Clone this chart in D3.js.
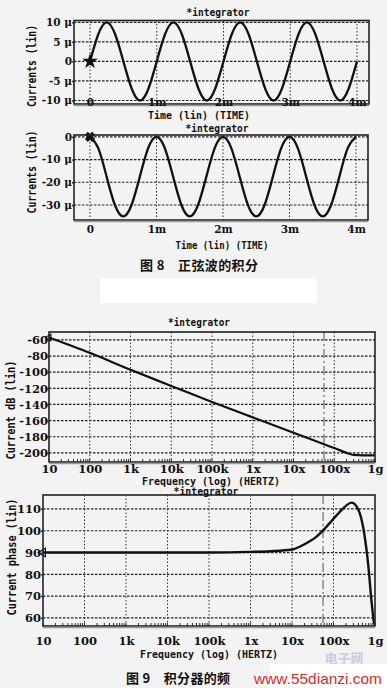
<!DOCTYPE html>
<html>
<head>
<meta charset="utf-8">
<script src="https://cdn.jsdelivr.net/npm/d3@7"></script>
<style>
  body { margin: 0; background: #f3f3f3; }
  svg { display: block; }
  .tk { font-family: "DejaVu Serif", serif; font-weight: bold; font-size: 11px; fill: #111; }
  .mono { font-family: "DejaVu Sans Mono", monospace; font-weight: bold; font-size: 10.5px; fill: #111; }
  .cap { font-family: "Noto Sans CJK SC", sans-serif; font-weight: bold; font-size: 13px; fill: #111; }
</style>
</head>
<body>
<svg id="fig" width="387" height="688"></svg>
<script>
/** Fig. 8: time axis (ms) shared by both transient plots */
var timeMs = [0, 0.125, 0.25, 0.375, 0.5, 0.625, 0.75, 0.875,
              1, 1.125, 1.25, 1.375, 1.5, 1.625, 1.75, 1.875,
              2, 2.125, 2.25, 2.375, 2.5, 2.625, 2.75, 2.875,
              3, 3.125, 3.25, 3.375, 3.5, 3.625, 3.75, 3.875, 4];

/** input sine current, uA */
var inputCurrent = [0, 7, 10, 7, 0, -7, -10, -7,
                    0, 7, 10, 7, 0, -7, -10, -7,
                    0, 7, 10, 7, 0, -7, -10, -7,
                    0, 7, 10, 7, 0, -7, -10, -7, 0];

/** integrated output current, uA */
var outputCurrent = [0, -5, -17.5, -30, -35, -30, -17.5, -5,
                     0, -5, -17.5, -30, -35, -30, -17.5, -5,
                     0, -5, -17.5, -30, -35, -30, -17.5, -5,
                     0, -5, -17.5, -30, -35, -30, -17.5, -5, 0];

/** Fig. 9: magnitude response */
var magFreq = [10, 100, 1e3, 1e4, 1e5, 1e6, 1e7, 3e7, 1e8, 2e8, 3e8, 5e8, 1e9];
var magDb   = [-57, -76, -97, -117, -137, -156, -175, -184, -194, -200, -202.5, -203, -203];

/** Fig. 9: phase response */
var phaseFreq = [10, 1e3, 1e5, 1e6, 3e6, 1e7, 1.9e7, 3.9e7, 8.2e7, 1.44e8, 2.75e8, 4e8, 5.25e8, 6.9e8, 8.3e8, 9.5e8];
var phaseDeg  = [90, 90, 90, 90.3, 90.6, 91.4, 93.6, 97.3, 103.6, 108.8, 112.9, 109.5, 101, 84, 67, 57];

/** cursor line drawn in both frequency plots */
var cursorFreq = 5.6e7;

/** tick values and labels */
var timeTicks = [0, 1, 2, 3, 4],
    timeLabels = ['0', '1m', '2m', '3m', '4m'];
var inTicks = [10, 5, 0, -5, -10],
    inLabels = ['10 \u03bc', '5 \u03bc', '0', '-5 \u03bc', '-10 \u03bc'];
var outTicks = [0, -10, -20, -30],
    outLabels = ['0', '-10 \u03bc', '-20 \u03bc', '-30 \u03bc'];
var freqTicks = [10, 100, 1e3, 1e4, 1e5, 1e6, 1e7, 1e8, 1e9],
    freqLabels = ['10', '100', '1k', '10k', '100k', '1x', '10x', '100x', '1g'];
var dbTicks = [-60, -80, -100, -120, -140, -160, -180, -200],
    dbLabels = ['-60', '-80', '-100', '-120', '-140', '-160', '-180', '-200'];
var phTicks = [110, 100, 90, 80, 70, 60],
    phLabels = ['110', '100', '90', '80', '70', '60'];

var svg = d3.select('#fig');

/** zip two arrays into [x, y] pairs */
function pairs(xs, ys) {
    return xs.map(function(d, i) { return [d, ys[i]]; });
}

/** draws one plot: frame, grid, ticks, trace, marker and its texts */
function panel(o) {
    var g = svg.append('g');
    var x = o.x, y = o.y;
    var l = x.range()[0], r = x.range()[1],
        t = y.range()[1], b = y.range()[0];

    // horizontal grid
    g.selectAll('.hg').data(o.yTicks).enter().append('line')
        .attr('x1', l).attr('x2', r)
        .attr('y1', function(d) { return y(d); })
        .attr('y2', function(d) { return y(d); })
        .attr('stroke', '#222').attr('stroke-width', 1.2)
        .attr('stroke-dasharray', '2.5,1.5');

    // vertical grid
    g.selectAll('.vg').data(o.xGrid).enter().append('line')
        .attr('y1', t).attr('y2', b)
        .attr('x1', function(d) { return x(d); })
        .attr('x2', function(d) { return x(d); })
        .attr('stroke', '#333').attr('stroke-width', 1)
        .attr('stroke-dasharray', '1.5,2');

    if (o.cursor) {
        g.append('line')
            .attr('x1', x(o.cursor)).attr('x2', x(o.cursor))
            .attr('y1', t).attr('y2', b)
            .attr('stroke', '#555').attr('stroke-width', 1)
            .attr('stroke-dasharray', '9,3,2,3');
    }

    // minor ticks on log axis
    if (o.minor) {
        g.selectAll('.mt').data(x.ticks()).enter().append('line')
            .attr('x1', function(d) { return x(d); })
            .attr('x2', function(d) { return x(d); })
            .attr('y1', b).attr('y2', b - 3)
            .attr('stroke', '#333').attr('stroke-width', 1);
    }

    // trace
    var line = d3.line()
        .x(function(d) { return x(d[0]); })
        .y(function(d) { return y(d[1]); })
        .curve(o.curve);
    g.append('path')
        .datum(o.data)
        .attr('d', line)
        .attr('fill', 'none')
        .attr('stroke', '#111')
        .attr('stroke-width', o.lw)
        .attr('stroke-linejoin', 'round');

    // start marker
    var m = o.data[0];
    g.append('path')
        .attr('d', d3.symbol().type(o.marker).size(o.markerSize)())
        .attr('transform', 'translate(' + x(m[0]) + ',' + y(m[1]) + ') rotate(' + o.markerRot + ')')
        .attr('fill', o.markerFill)
        .attr('stroke', '#111').attr('stroke-width', 1.2);

    // frame
    g.append('rect')
        .attr('x', l).attr('y', t)
        .attr('width', r - l).attr('height', b - t)
        .attr('fill', 'none').attr('stroke', '#222').attr('stroke-width', 1.6);
    g.append('line')
        .attr('x1', l).attr('x2', r).attr('y1', b + 1.5).attr('y2', b + 1.5)
        .attr('stroke', '#9a9a9a').attr('stroke-width', 1.5);

    // y axis
    var ya = g.append('g')
        .attr('transform', 'translate(' + l + ',0)')
        .call(d3.axisLeft(y).tickValues(o.yTicks)
            .tickFormat(function(d, i) { return o.yLabels[i]; })
            .tickSize(2).tickPadding(o.yPad));
    ya.select('.domain').remove();
    ya.selectAll('line').attr('stroke', '#222').attr('stroke-width', 1.3);
    ya.selectAll('text').attr('class', 'tk')
        .style('font-size', o.fs + 'px');

    // x axis labels
    var xa = g.append('g')
        .attr('transform', 'translate(0,' + o.xLabelY + ')')
        .call(d3.axisBottom(x).tickValues(o.xTicks)
            .tickFormat(function(d, i) { return o.xLabels[i]; })
            .tickSize(0).tickPadding(0));
    xa.select('.domain').remove();
    xa.selectAll('text').attr('class', 'tk').attr('y', 0).attr('dy', 0)
        .style('font-size', o.fs + 'px');
    xa.attr('font-size', null).attr('font-family', null);
    ya.attr('font-size', null).attr('font-family', null);

    // plot title
    g.append('text').attr('class', 'mono')
        .attr('x', o.title[0]).attr('y', o.title[1])
        .attr('text-anchor', 'middle')
        .attr('textLength', o.title[2]).attr('lengthAdjust', 'spacingAndGlyphs')
        .text('*integrator');

    // x title
    g.append('text').attr('class', 'mono')
        .attr('x', o.xTitle[0]).attr('y', o.xTitle[1])
        .attr('text-anchor', 'middle')
        .attr('textLength', o.xTitle[2]).attr('lengthAdjust', 'spacingAndGlyphs')
        .text(o.xTitle[3]);

    // y title
    g.append('text').attr('class', 'mono')
        .attr('transform', 'translate(' + o.yTitle[0] + ',' + o.yTitle[1] + ') rotate(-90)')
        .attr('text-anchor', 'middle').attr('dy', '0.35em')
        .style('font-size', '12px')
        .attr('textLength', o.yTitle[2]).attr('lengthAdjust', 'spacingAndGlyphs')
        .text(o.yTitle[3]);
}

// white band from the scan
svg.append('rect').attr('x', 100).attr('y', 278).attr('width', 217).attr('height', 25).attr('fill', '#fff');

// Fig. 8 top: input sine
panel({
    x: d3.scaleLinear().domain([-0.24, 4.18]).range([74, 369]),
    y: d3.scaleLinear().domain([-10.9, 10.46]).range([104, 20.5]),
    data: pairs(timeMs, inputCurrent),
    curve: d3.curveNatural, lw: 2.3,
    xTicks: timeTicks, xLabels: timeLabels, xGrid: timeTicks,
    yTicks: inTicks, yLabels: inLabels, yPad: 0,
    xLabelY: 106, fs: 10.5,
    marker: d3.symbolStar, markerSize: 45, markerRot: 0, markerFill: '#111',
    title: [218, 16, 63],
    xTitle: [199, 118.5, 102, 'Time (lin) (TIME)'],
    yTitle: [32, 66, 82, 'Currents (lin)']
});

// Fig. 8 bottom: integrated output
panel({
    x: d3.scaleLinear().domain([-0.24, 4.18]).range([74, 368]),
    y: d3.scaleLinear().domain([-36.6, 0.8]).range([220, 135]),
    data: pairs(timeMs, outputCurrent),
    curve: d3.curveNatural, lw: 2.3,
    xTicks: timeTicks, xLabels: timeLabels, xGrid: timeTicks,
    yTicks: outTicks, yLabels: outLabels, yPad: 0,
    xLabelY: 233, fs: 10.5,
    marker: d3.symbolCross, markerSize: 45, markerRot: 45, markerFill: '#111',
    title: [217, 131.5, 63],
    xTitle: [222, 249, 93, 'Time (lin) (TIME)'],
    yTitle: [32, 172, 83, 'Currents (lin)']
});

svg.append('text').attr('class', 'cap')
    .attr('x', 199).attr('y', 270).attr('text-anchor', 'middle')
    .attr('textLength', 118).attr('lengthAdjust', 'spacing')
    .text('\u56fe 8\u3000\u6b63\u5f26\u6ce2\u7684\u79ef\u5206');

// Fig. 9 top: magnitude
panel({
    x: d3.scaleLog().domain([10, 1e9]).range([49, 375]),
    y: d3.scaleLinear().domain([-211.3, -50.2]).range([462, 332]),
    data: pairs(magFreq, magDb),
    curve: d3.curveMonotoneX, lw: 2.2,
    xTicks: freqTicks, xLabels: freqLabels, xGrid: freqTicks.slice(1, -1),
    yTicks: dbTicks, yLabels: dbLabels, yPad: -1,
    xLabelY: 473, fs: 11.5, minor: true, cursor: cursorFreq,
    marker: d3.symbolTriangle, markerSize: 18, markerRot: -90, markerFill: 'none',
    title: [199, 326, 62],
    xTitle: [211, 484.5, 138, 'Frequency (log) (HERTZ)'],
    yTitle: [11, 410, 99, 'Current dB (lin)']
});

// Fig. 9 bottom: phase
panel({
    x: d3.scaleLog().domain([10, 1e9]).range([43, 375]),
    y: d3.scaleLinear().domain([56.3, 116.4]).range([626, 495]),
    data: pairs(phaseFreq, phaseDeg),
    curve: d3.curveMonotoneX, lw: 2.4,
    xTicks: freqTicks, xLabels: freqLabels, xGrid: freqTicks.slice(1, -1),
    yTicks: phTicks, yLabels: phLabels, yPad: 0,
    xLabelY: 645, fs: 11.5, minor: true, cursor: cursorFreq,
    marker: d3.symbolTriangle, markerSize: 30, markerRot: -90, markerFill: 'none',
    title: [206, 495, 65],
    xTitle: [209, 658, 138, 'Frequency (log) (HERTZ)'],
    yTitle: [12, 557, 117, 'Current phase (lin)']
});

// faint site logo and watermark
svg.append('text')
    .attr('x', 344).attr('y', 663).attr('text-anchor', 'middle')
    .style('font-family', '"Noto Sans CJK SC", sans-serif').style('font-size', '13px')
    .style('font-weight', 'bold').style('fill', '#cfc8e4')
    .text('\u7535\u5b50\u7f51');
svg.append('rect').attr('x', 270).attr('y', 664).attr('width', 117).attr('height', 24).attr('fill', '#fff');
svg.append('text')
    .attr('x', 318).attr('y', 684).attr('text-anchor', 'middle')
    .style('font-family', '"Liberation Sans", Arial, sans-serif').style('font-size', '15px')
    .style('fill', '#e3262b')
    .attr('textLength', 128).attr('lengthAdjust', 'spacingAndGlyphs')
    .text('www.55dianzi.com');

svg.append('text').attr('class', 'cap')
    .attr('x', 178).attr('y', 683).attr('text-anchor', 'middle')
    .attr('textLength', 104).attr('lengthAdjust', 'spacing')
    .text('\u56fe 9\u3000\u79ef\u5206\u5668\u7684\u9891');
</script>
</body>
</html>
